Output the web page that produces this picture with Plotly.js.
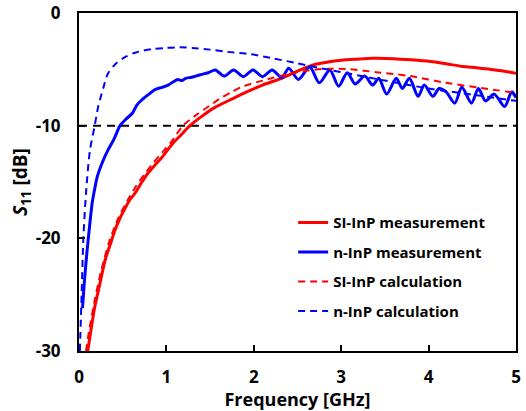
<!DOCTYPE html>
<html>
<head>
<meta charset="utf-8">
<script src="https://cdn.plot.ly/plotly-3.0.1.min.js"></script>
<style>html,body{margin:0;padding:0;background:#fff}#chart{width:526px;height:411px}</style>
</head>
<body>
<div id="chart"></div>
<script>
// SI-InP measurement
const siMeasF = [0.10,0.13,0.18,0.24,0.30,0.36,0.41,0.47,0.53,0.58,0.64,0.72,0.79,0.87,0.95,1.07,1.17,1.27,1.40,1.55,1.76,1.95,2.10,2.33,2.50,2.68,2.85,3.00,3.18,3.36,3.60,3.80,4.02,4.20,4.39,4.55,4.70,4.85,5.00];
const siMeasDb = [-30,-28.5,-26.1,-24,-21.9,-20.5,-19.3,-18.2,-17.3,-16.6,-16.0,-15.0,-14.2,-13.5,-12.8,-11.6,-10.8,-10.0,-9.2,-8.4,-7.6,-6.9,-6.4,-5.75,-5.15,-4.6,-4.35,-4.2,-4.1,-4.02,-4.05,-4.15,-4.3,-4.5,-4.75,-4.85,-5.0,-5.15,-5.35];
// n-InP measurement
const nMeasF = [0.04,0.06,0.09,0.12,0.15,0.18,0.21,0.27,0.33,0.40,0.47,0.54,0.61,0.66,0.72,0.80,0.87,0.95,1.02,1.08,1.13,1.18,1.22,1.29,1.38,1.48,1.56,1.66,1.77,1.88,1.99,2.10,2.21,2.32,2.40,2.51,2.64,2.75,2.87,2.97,3.07,3.16,3.27,3.36,3.43,3.52,3.63,3.70,3.78,3.88,3.95,4.05,4.12,4.20,4.30,4.38,4.49,4.57,4.65,4.75,4.87,4.95,5.00];
const nMeasDb = [-26.2,-24,-21.3,-19,-16.9,-15.6,-14.5,-13.2,-12.2,-11.2,-10.0,-9.4,-8.9,-8.2,-7.7,-7.2,-6.8,-6.6,-6.4,-6.1,-5.9,-6.0,-5.8,-5.7,-5.5,-5.3,-5.05,-5.6,-5.05,-5.65,-5.05,-5.65,-5.05,-5.75,-4.9,-5.9,-4.8,-6.2,-5.05,-6.5,-5.3,-6.3,-5.6,-6.4,-5.8,-7.2,-5.8,-6.7,-5.8,-7.4,-6.4,-7.4,-6.7,-7.0,-8.0,-6.6,-8.0,-6.7,-7.8,-7.2,-8.3,-7.0,-7.5];
// SI-InP calculation
const siCalcF = [0.08,0.12,0.18,0.25,0.35,0.45,0.55,0.65,0.75,0.85,0.95,1.05,1.19,1.35,1.50,1.61,1.75,1.88,2.10,2.35,2.61,2.85,3.10,3.40,3.79,4.20,4.60,5.00];
const siCalcDb = [-30,-28,-25.5,-23,-20.2,-18.2,-16.7,-15.4,-14.3,-13.3,-12.4,-11.5,-10.0,-9.0,-8.2,-7.6,-7.0,-6.5,-6.0,-5.5,-5.1,-4.95,-5.0,-5.25,-5.6,-6.2,-6.65,-7.1];
// n-InP calculation
const nCalcF = [0.01,0.03,0.05,0.08,0.125,0.18,0.22,0.28,0.33,0.42,0.53,0.65,0.84,1.00,1.15,1.30,1.50,1.70,1.96,2.20,2.49,2.80,3.10,3.50,4.00,4.50,5.00];
const nCalcDb = [-30,-25,-20,-16,-12.2,-10,-8.3,-6.6,-5.4,-4.5,-3.9,-3.5,-3.2,-3.1,-3.05,-3.1,-3.25,-3.45,-3.65,-4.0,-4.45,-4.95,-5.4,-6.0,-6.7,-7.25,-7.8];
// -10 dB reference
const refF = [0, 5];
const refDb = [-10, -10];

const names = ['SI-InP measurement','n-InP measurement','SI-InP calculation','n-InP calculation'];
const xTicks = [0,1,2,3,4,5];
const yTicks = [0,-10,-20,-30];

const FONT = '"Open Sans", Lato, sans-serif';
const traces = [
  {x: refF, y: refDb, mode:'lines', line:{color:'#000', width:2, dash:'8px,6px'}, showlegend:false, hoverinfo:'skip'},
  {x: siMeasF, y: siMeasDb, name: names[0], legendgroup:'a', mode:'lines', line:{color:'#ff0000', width:3, shape:'spline', smoothing:0.8}},
  {x: nMeasF, y: nMeasDb, name: names[1], legendgroup:'b', mode:'lines', line:{color:'#0000ff', width:3, shape:'spline', smoothing:0.8}},
  {x: siCalcF, y: siCalcDb, name: names[2], legendgroup:'c', mode:'lines', line:{color:'#ff0000', width:2, dash:'7px,5px', shape:'spline', smoothing:0.8}},
  {x: nCalcF, y: nCalcDb, name: names[3], legendgroup:'d', mode:'lines', line:{color:'#0000ff', width:2, dash:'7px,5px', shape:'spline', smoothing:0.8}}
];

const layout = {
  width: 526, height: 411,
  margin: {l:79, r:10, t:13, b:60},
  paper_bgcolor:'#fff', plot_bgcolor:'#fff',
  font: {family: FONT, color:'#000', size:15, weight:'bold'},
  showlegend: true,
  legend: {x:0.49, y:0.428, xanchor:'left', yanchor:'top', traceorder:'grouped', tracegroupgap:7,
           font:{family:FONT, size:15, weight:'bold', color:'#000'}, bgcolor:'rgba(0,0,0,0)'},
  xaxis: {range:[0,5], tickvals:xTicks, ticktext:xTicks.map(String), ticks:'inside', ticklen:6, tickwidth:2,
          tickcolor:'#000', showline:true, linecolor:'#000', linewidth:2, mirror:true, showgrid:false, zeroline:false,
          ticklabelstandoff:10, tickfont:{family:FONT, size:17, weight:'bold'},
          title:{text:'Frequency [GHz]', font:{family:FONT, size:18, weight:'bold'}, standoff:1}},
  yaxis: {range:[-30,0], tickvals:yTicks, ticktext:yTicks.map(String), ticks:'inside', ticklen:6, tickwidth:2,
          tickcolor:'#000', showline:true, linecolor:'#000', linewidth:2, mirror:true, showgrid:false, zeroline:false,
          ticklabelstandoff:13, tickfont:{family:FONT, size:17, weight:'bold'},
          title:{text:'<i>S</i><sub>11</sub> [dB]', font:{family:FONT, size:19, weight:'bold'}, standoff:3}}
};

Plotly.newPlot('chart', traces, layout, {displayModeBar:false, staticPlot:true});
</script>
</body>
</html>
